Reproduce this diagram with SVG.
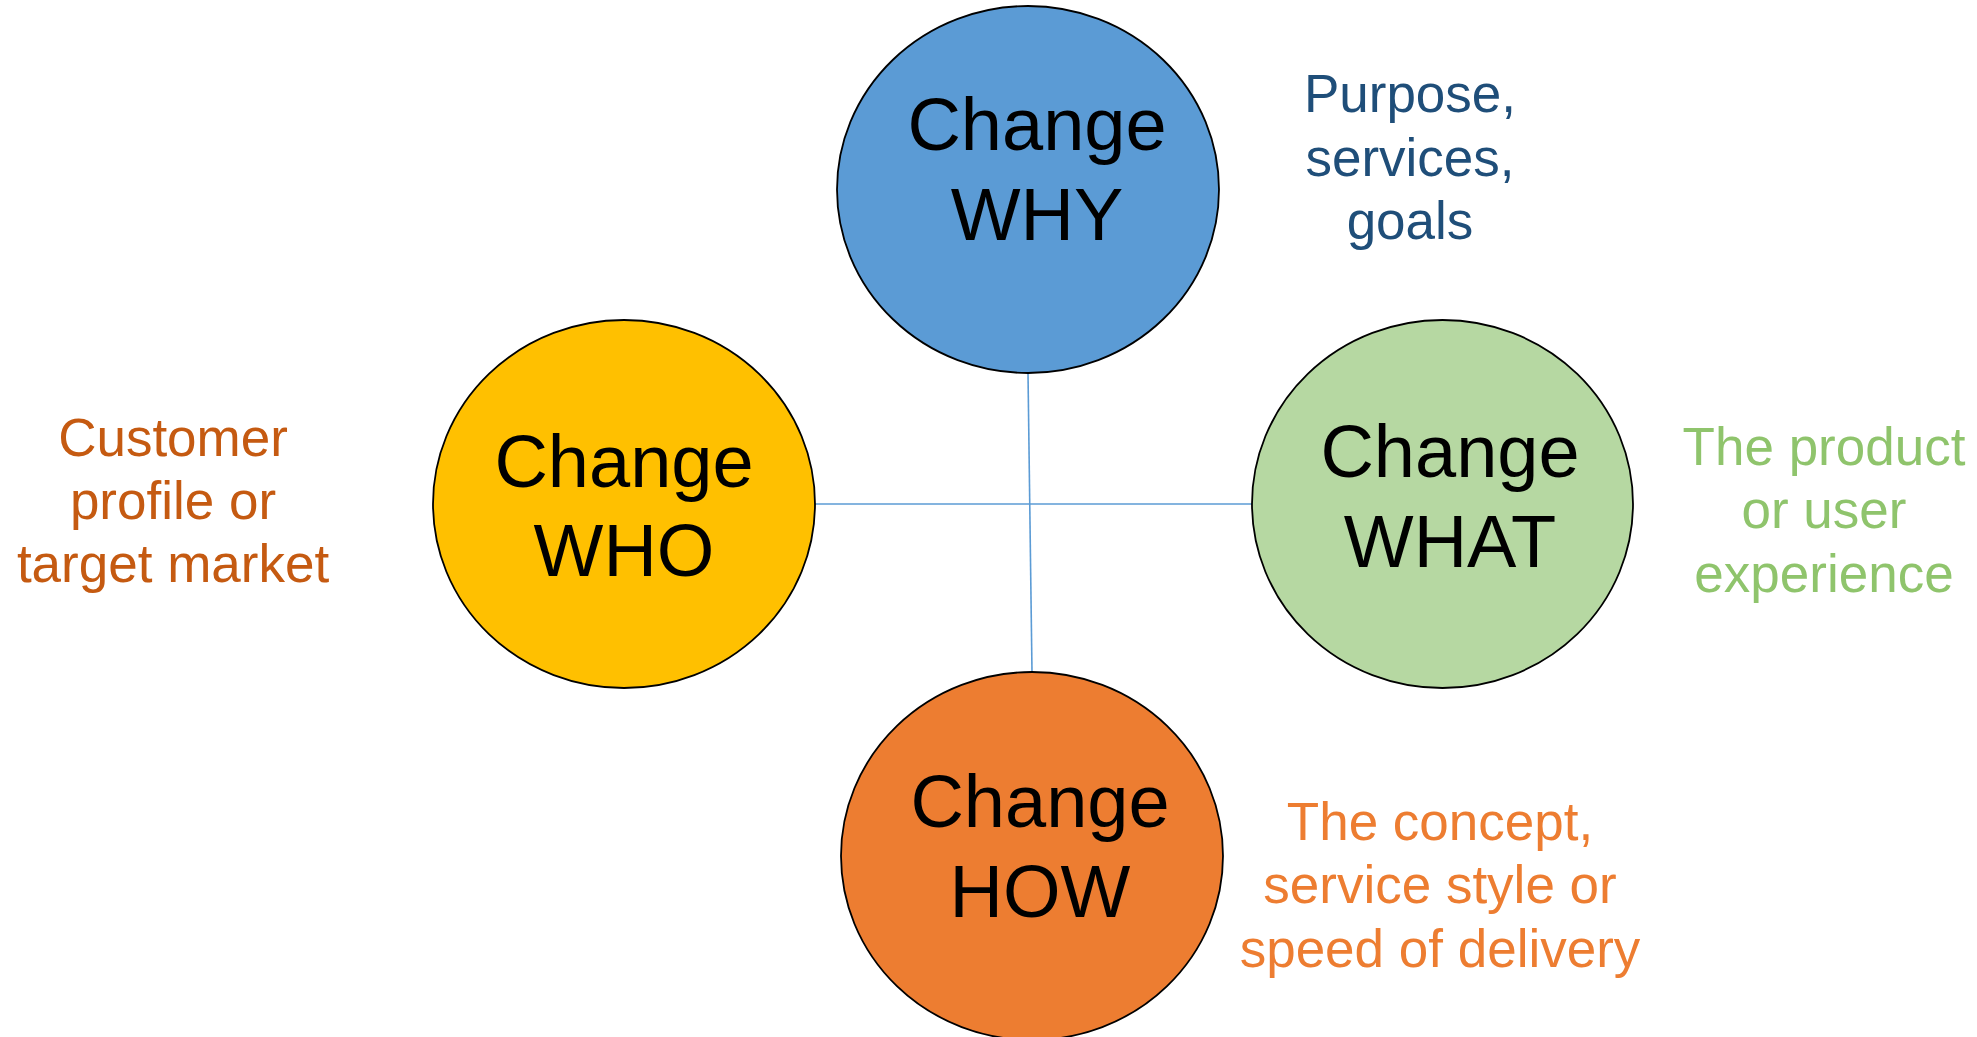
<svg xmlns="http://www.w3.org/2000/svg" width="1977" height="1037" viewBox="0 0 1977 1037">
  <style>
    .node { stroke: #000000; stroke-width: 1.8; }
    .title { font-family: "Liberation Sans", Arial, sans-serif; font-size: 74px; fill: #000000; text-anchor: middle; }
    .note { font-family: "Liberation Sans", Arial, sans-serif; font-size: 53px; text-anchor: middle; }
    .link { stroke: #5B9BD5; stroke-width: 1.6; fill: none; }
  </style>
  <rect width="1977" height="1037" fill="#FFFFFF"/>

  <g id="connectors">
    <line class="link" x1="1028" y1="373" x2="1032" y2="672"/>
    <line class="link" x1="815" y1="504" x2="1252" y2="504"/>
  </g>

  <g id="node-why">
    <ellipse class="node" cx="1028" cy="189.5" rx="191" ry="183.5" fill="#5B9BD5"/>
    <text class="title" x="1037" y="150">Change</text>
    <text class="title" x="1037" y="240">WHY</text>
  </g>

  <g id="node-who">
    <ellipse class="node" cx="624" cy="504" rx="191" ry="184" fill="#FFC000"/>
    <text class="title" x="624" y="487">Change</text>
    <text class="title" x="624" y="576">WHO</text>
  </g>

  <g id="node-what">
    <ellipse class="node" cx="1442.5" cy="504" rx="190.5" ry="184" fill="#B6D8A2"/>
    <text class="title" x="1450" y="477">Change</text>
    <text class="title" x="1450" y="567">WHAT</text>
  </g>

  <g id="node-how">
    <ellipse class="node" cx="1032" cy="856" rx="191" ry="184" fill="#ED7D31"/>
    <text class="title" x="1040" y="827">Change</text>
    <text class="title" x="1040" y="917">HOW</text>
  </g>

  <g id="note-why" fill="#1F4E79">
    <text class="note" x="1410" y="112">Purpose,</text>
    <text class="note" x="1410" y="176">services,</text>
    <text class="note" x="1410" y="239">goals</text>
  </g>

  <g id="note-who" fill="#C55A11">
    <text class="note" x="173" y="456">Customer</text>
    <text class="note" x="173" y="519">profile or</text>
    <text class="note" x="173" y="582">target market</text>
  </g>

  <g id="note-what" fill="#8FC46C">
    <text class="note" x="1824" y="465">The product</text>
    <text class="note" x="1824" y="528">or user</text>
    <text class="note" x="1824" y="592">experience</text>
  </g>

  <g id="note-how" fill="#ED7D31">
    <text class="note" x="1440" y="840">The concept,</text>
    <text class="note" x="1440" y="903">service style or</text>
    <text class="note" x="1440" y="967">speed of delivery</text>
  </g>
</svg>
